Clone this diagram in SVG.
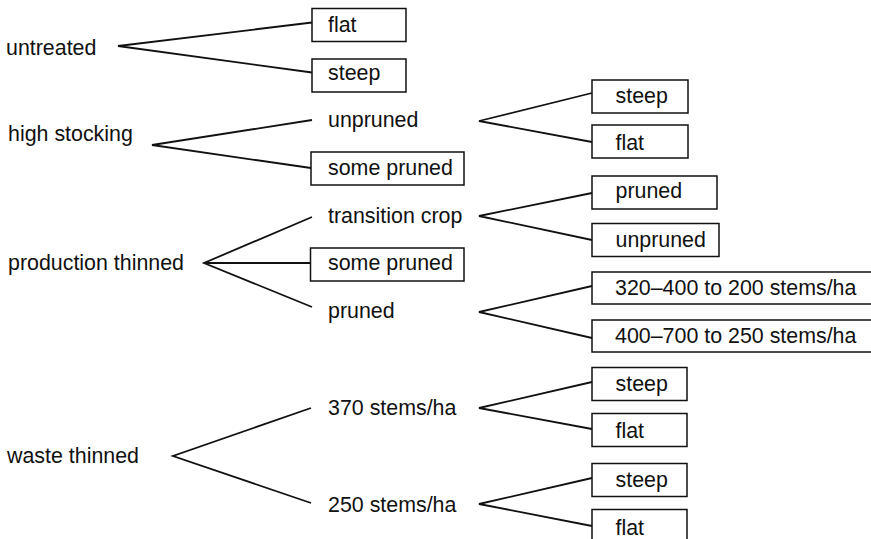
<svg xmlns="http://www.w3.org/2000/svg" width="871" height="539" viewBox="0 0 871 539">
<style>
text{font-family:"Liberation Sans",Arial,sans-serif;font-size:21.4px;fill:#111}
.box{fill:#fff;stroke:#111;stroke-width:1.5}
.con{fill:none;stroke:#111;stroke-width:1.8;stroke-linejoin:miter}
</style>
<rect width="871" height="539" fill="#fff"/>
<g id="connectors" class="con">
<polyline points="312,22.5 118,46 312,72.5"/>
<polyline points="312,120 152,145 311,168"/>
<polyline points="592,93 479,121 592,142"/>
<polyline points="592,193 479,216 592,240"/>
<polyline points="312,217 204,263 312,307"/>
<line x1="204" y1="263" x2="310" y2="263"/>
<polyline points="592,286 479,312 592,338"/>
<polyline points="311,408 173,456 311,503"/>
<polyline points="592,382 479,408 592,429"/>
<polyline points="592,478 479,504 592,526"/>
</g>
<g id="untreated"><text x="6" y="55">untreated</text></g>
<g id="untreated-flat"><rect class="box" x="312" y="8.5" width="94" height="33"/><text x="328" y="32">flat</text></g>
<g id="untreated-steep"><rect class="box" x="312" y="59" width="94" height="33"/><text x="328" y="80">steep</text></g>
<g id="high-stocking"><text x="8" y="141">high stocking</text></g>
<g id="hs-unpruned"><text x="328" y="127">unpruned</text></g>
<g id="hs-some-pruned"><rect class="box" x="311" y="152" width="153" height="33"/><text x="328" y="175">some pruned</text></g>
<g id="hs-steep"><rect class="box" x="592" y="80" width="96" height="33"/><text x="615.5" y="103">steep</text></g>
<g id="hs-flat"><rect class="box" x="592" y="125" width="96" height="33"/><text x="615.5" y="150">flat</text></g>
<g id="production-thinned"><text x="8" y="270">production thinned</text></g>
<g id="pt-transition"><text x="328" y="223">transition crop</text></g>
<g id="pt-tc-pruned"><rect class="box" x="592" y="176" width="125" height="33"/><text x="615.5" y="198">pruned</text></g>
<g id="pt-tc-unpruned"><rect class="box" x="592" y="223.5" width="127" height="33"/><text x="615.5" y="247">unpruned</text></g>
<g id="pt-some-pruned"><rect class="box" x="310.5" y="248" width="153.5" height="33"/><text x="328" y="270">some pruned</text></g>
<g id="pt-pruned"><text x="328" y="318">pruned</text></g>
<g id="pt-320"><rect class="box" x="592" y="272" width="290" height="32"/><text x="615" y="295">320–400 to 200 stems/ha</text></g>
<g id="pt-400"><rect class="box" x="592" y="320" width="290" height="32"/><text x="615" y="343">400–700 to 250 stems/ha</text></g>
<g id="waste-thinned"><text x="7" y="463">waste thinned</text></g>
<g id="wt-370"><text x="328" y="415">370 stems/ha</text></g>
<g id="wt-250"><text x="328" y="512">250 stems/ha</text></g>
<g id="wt-370-steep"><rect class="box" x="592" y="367.5" width="95" height="33"/><text x="615.5" y="391">steep</text></g>
<g id="wt-370-flat"><rect class="box" x="592" y="413.5" width="95" height="33"/><text x="615.5" y="438">flat</text></g>
<g id="wt-250-steep"><rect class="box" x="592" y="463.5" width="95" height="33"/><text x="615.5" y="487">steep</text></g>
<g id="wt-250-flat"><rect class="box" x="592" y="509.5" width="95" height="40"/><text x="615.5" y="535">flat</text></g>
</svg>
